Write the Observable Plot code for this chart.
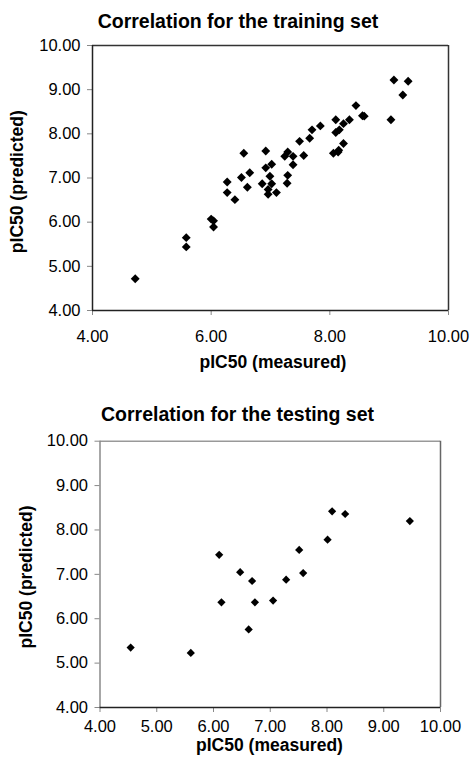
<!DOCTYPE html>
<html><head><meta charset="utf-8">
<script src="https://cdn.jsdelivr.net/npm/d3@7"></script>
<script src="https://cdn.jsdelivr.net/npm/@observablehq/plot@0.6"></script>
<style>
body{margin:0;background:#fff;}
#wrap{position:relative;width:472px;height:773px;font-family:"Liberation Sans",Arial,sans-serif;}
#wrap svg{position:absolute;left:0;}
</style></head><body><div id="wrap"></div>
<script>
const trainMeasured = [4.72,5.58,5.58,6.00,6.04,6.04,6.27,6.27,6.40,6.51,6.55,6.65,6.61,6.92,6.92,7.02,6.99,6.86,7.02,6.96,6.96,7.10,7.29,7.28,7.29,7.24,7.38,7.38,7.56,7.49,7.66,7.70,7.84,8.10,8.10,8.16,8.23,8.33,8.44,8.55,8.58,8.23,8.06,8.14,8.15,9.03,9.23,9.08,9.32];
const trainPredicted = [4.72,5.65,5.44,6.07,6.03,5.89,6.91,6.67,6.51,7.01,7.56,7.12,6.79,7.61,7.23,7.31,7.04,6.87,6.87,6.74,6.63,6.67,7.06,6.88,7.59,7.49,7.49,7.30,7.51,7.83,7.90,8.09,8.18,8.32,8.03,8.09,8.23,8.32,8.64,8.41,8.40,7.78,7.56,7.59,7.63,8.32,8.88,9.22,9.19];
const testMeasured = [4.54,5.60,6.10,6.14,6.47,6.68,6.73,6.62,7.05,7.28,7.51,7.58,8.01,8.09,8.32,9.46];
const testPredicted = [5.35,5.23,7.44,6.37,7.05,6.85,6.37,5.76,6.41,6.88,7.55,7.03,7.78,8.42,8.36,8.20];
const yTicks = [4,5,6,7,8,9,10];
const trainXTicks = [4,6,8,10];
const testXTicks = [4,5,6,7,8,9,10];
const titles = ["Correlation for the training set","Correlation for the testing set"];
const xLabel = "pIC50 (measured)";
const yLabel = "pIC50 (predicted)";

const FONT = '"Liberation Sans", Arial, sans-serif';
const fmt = d3.format(".2f");

function chart({meas, pred, xTicks, height, mt, mb, ml, mr, xPad, frameColors, r}) {
  const data = meas.map((m, i) => ({m, p: pred[i]}));
  return Plot.plot({
    width: 472, height,
    marginTop: mt, marginBottom: mb, marginLeft: ml, marginRight: mr,
    x: {domain: [4, 10]},
    y: {domain: [4, 10]},
    style: {fontFamily: FONT, fontSize: "16.5px", color: "#000", background: "transparent", overflow: "visible"},
    marks: [
      Plot.axisX(xTicks, {tickSize: 5, tickPadding: xPad, tickFormat: fmt, stroke: "#888", fill: "#000", fontSize: 16.5, label: null}),
      Plot.axisY(yTicks, {tickSize: 5, tickPadding: 7, tickFormat: fmt, stroke: "#888", fill: "#000", fontSize: 16.5, label: null}),
      Plot.ruleY([10], {stroke: frameColors.top, strokeWidth: 1.5}),
      Plot.ruleX([10], {stroke: frameColors.right, strokeWidth: 1.5}),
      Plot.ruleX([4], {stroke: frameColors.left, strokeWidth: 1.5}),
      Plot.ruleY([4], {stroke: frameColors.bottom, strokeWidth: 1.5}),
      Plot.dot(data, {x: "m", y: "p", symbol: "diamond2", r, fill: "#000", stroke: null})
    ]
  });
}

const wrap = document.getElementById("wrap");

const top1 = chart({meas: trainMeasured, pred: trainPredicted, xTicks: trainXTicks, height: 380,
  mt: 45, mb: 70, ml: 92, mr: 24, xPad: 15,
  frameColors: {top: "#333", right: "#333", left: "#222", bottom: "#222"}, r: 4});
top1.style.top = "0px";
wrap.appendChild(top1);

const bot = chart({meas: testMeasured, pred: testPredicted, xTicks: testXTicks, height: 373,
  mt: 40.7, mb: 66, ml: 99.5, mr: 32, xPad: 7.3,
  frameColors: {top: "#999", right: "#666", left: "#8a8a8a", bottom: "#222"}, r: 3.7});
bot.style.top = "400px";
wrap.appendChild(bot);

// overlay text: titles and axis labels
const ov = d3.create("svg").attr("width", 472).attr("height", 773)
  .style("top", "0px").style("pointer-events", "none")
  .attr("font-family", FONT).attr("font-weight", "bold").attr("fill", "#000");
const texts = [
  {t: titles[0], x: 238, y: 27.5, size: 19.5},
  {t: xLabel, x: 273, y: 367.5, size: 17.5},
  {t: yLabel, x: 17.3, y: 181.7, size: 17.5, rot: true},
  {t: titles[1], x: 237.5, y: 420.7, size: 19.5},
  {t: xLabel, x: 269.5, y: 751, size: 17.5},
  {t: yLabel, x: 26, y: 577, size: 17.5, rot: true}
];
for (const d of texts) {
  const el = ov.append("text").attr("text-anchor", "middle").attr("font-size", d.size).text(d.t);
  if (d.rot) {
    el.attr("transform", `translate(${d.x},${d.y}) rotate(-90)`).attr("dy", "0.35em");
  } else {
    el.attr("x", d.x).attr("y", d.y);
  }
}
wrap.appendChild(ov.node());
</script>
</body></html>
